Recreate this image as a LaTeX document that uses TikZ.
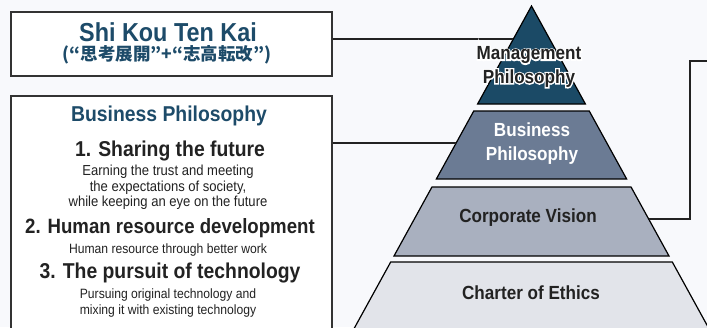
\documentclass[tikz,border=0pt]{standalone}
\usepackage{fontspec}
\setmainfont{Liberation Sans}[FakeStretch=0.9]
\newfontfamily\cjk{Noto Sans CJK JP}
\definecolor{pagebg}{HTML}{F8F9FC}
\definecolor{teal}{HTML}{1D4B69}
\definecolor{inkdark}{HTML}{222222}
\definecolor{framegray}{HTML}{333333}
\definecolor{tierone}{HTML}{1B4A66}
\definecolor{tiertwo}{HTML}{6B7B94}
\definecolor{tierthree}{HTML}{A9B0BF}
\definecolor{tierfour}{HTML}{E2E4EA}
\newcommand\fs[2]{\fontsize{#1}{#2}\selectfont}
% outline-only glyphs (used for the white halo behind a label)
\newcommand\strokeon{\special{pdf:literal direct 1 Tr 2.6 w}}
\newcommand\strokeoff{\special{pdf:literal direct 0 Tr 1 w}}
\begin{document}
\begin{tikzpicture}[x=1pt,y=-1pt,
  infobox/.style={draw=framegray,line width=1.5pt,fill=white,inner sep=0pt},
  link/.style={draw=inkdark,line width=1.5pt},
  tier/.style={draw=black,line width=1.2pt,line join=miter},
  txt/.style={inner sep=0pt,align=center,text=inkdark},
  head/.style={txt,font=\bfseries},
  lbl/.style={txt,font=\bfseries\fs{19}{23.5}}]
\useasboundingbox (0,0) rectangle (707,327);
\clip (0,0) rectangle (707,327);
\fill[pagebg] (0,0) rectangle (707,327);

% pyramid tiers (apex at 531.5,6; side slope 0.55)
\filldraw[tier,fill=tierone]   (531.5,6) -- (585.4,104) -- (477.6,104) -- cycle;
\filldraw[tier,fill=tiertwo]   (473.75,111) -- (589.25,111) -- (626.65,179) -- (436.35,179) -- cycle;
\filldraw[tier,fill=tierthree] (431.95,187) -- (631.05,187) -- (669,256) -- (394,256) -- cycle;
\filldraw[tier,fill=tierfour]  (390.7,262) -- (672.3,262) -- (715.2,340) -- (347.8,340) -- cycle;

% points on the pyramid sides where connectors meet
\coordinate (p1) at (513.35,39);
\coordinate (p2) at (456.15,143);
\coordinate (p3) at (648.65,219);
\coordinate (r1) at (690,61);
\coordinate (rend) at (708,61);

% text boxes
\node[infobox,minimum width=321,minimum height=64] (sk) at (171.5,44) {};
\node[infobox,minimum width=321,minimum height=254] (bp) at (171.5,223) {};

% connectors
\draw[link] (sk.east |- p1) -- (p1);
\draw[link] (bp.east |- p2) -- (p2);
\draw[link] (p3) -| (r1) -- (rend);

% Shi Kou Ten Kai box
\node[head,text=teal,font=\bfseries\fs{26}{28}] (sktitle) at (168,32) {Shi Kou Ten Kai};
\node[txt,text=teal,font=\cjk\bfseries\fs{17.5}{19}] (skjp) at (167,55) {(“思考展開”+“志高転改”)};

% Business Philosophy box
\node[head,text=teal,font=\bfseries\fs{21.5}{24}] (bptitle) at (169,116) {Business Philosophy};
\node[head,font=\bfseries\fs{21.5}{24}] (i1) at (170,151) {1. Sharing the future};
\node[txt,font=\fs{14.5}{15.5}] (d1) at (168,187.5) {Earning the trust and meeting\\the expectations of society,\\while keeping an eye on the future};
\node[head,font=\bfseries\fs{20.7}{24}] (i2) at (170,228) {2. Human resource development};
\node[txt,font=\fs{13.5}{15.5}] (d2) at (168,250) {Human resource through better work};
\node[head,font=\bfseries\fs{21.5}{24}] (i3) at (170,273) {3. The pursuit of technology};
\node[txt,font=\fs{13.5}{16}] (d3) at (168,303) {Pursuing original technology and\\mixing it with existing technology};

% pyramid labels
\node[lbl,text=white] (bplbl) at (532,143.5) {Business\\Philosophy};
\node[lbl] (cv) at (528,218) {Corporate Vision};
\node[lbl] (ce) at (531,293) {Charter of Ethics};
% top label: white outline first, dark glyphs on top
\node[lbl,text=white] (mphalo) at (529,67) {\strokeon Management\\Philosophy\strokeoff};
\node[lbl] (mp) at (529,67) {Management\\Philosophy};
\end{tikzpicture}
\end{document}
